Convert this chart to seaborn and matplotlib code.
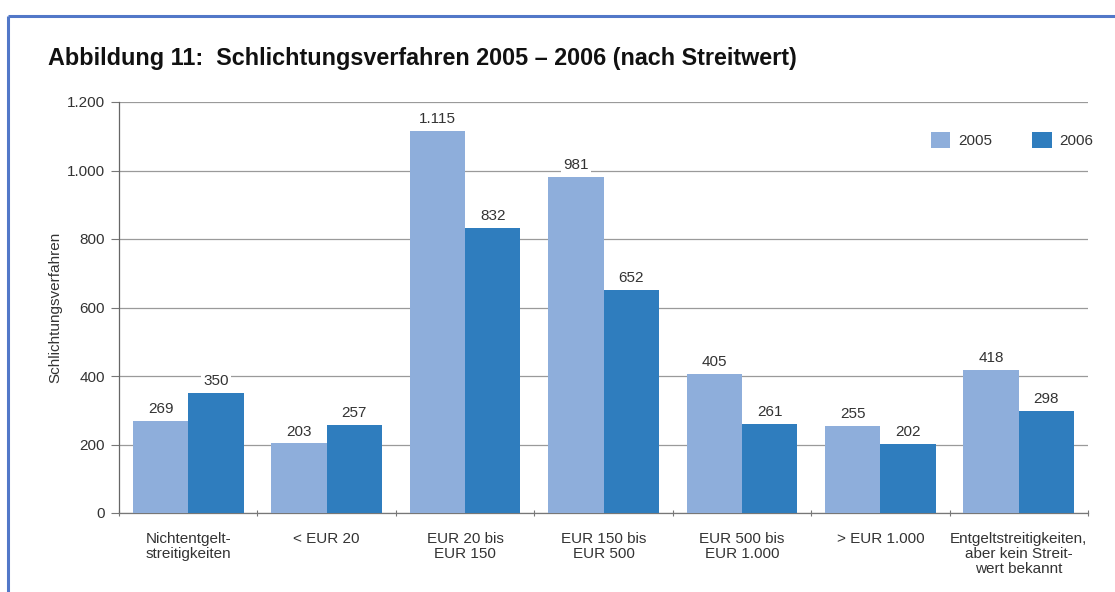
import matplotlib
matplotlib.use("Agg")
import matplotlib.pyplot as plt
from matplotlib.lines import Line2D
from matplotlib.patches import Patch
import seaborn as sns
import pandas as pd

categories = [
    "Nichtentgelt-\nstreitigkeiten",
    "< EUR 20",
    "EUR 20 bis\nEUR 150",
    "EUR 150 bis\nEUR 500",
    "EUR 500 bis\nEUR 1.000",
    "> EUR 1.000",
    "Entgeltstreitigkeiten,\naber kein Streit-\nwert bekannt",
]
values_2005 = [269, 203, 1115, 981, 405, 255, 418]
values_2006 = [350, 257, 832, 652, 261, 202, 298]
years = ["2005", "2006"]
y_ticks = [0, 200, 400, 600, 800, 1000, 1200]

colors = {"2005": "#8eaedb", "2006": "#2f7dbe"}

df = pd.DataFrame({
    "Kategorie": categories * 2,
    "Jahr": [years[0]] * len(categories) + [years[1]] * len(categories),
    "Anzahl": values_2005 + values_2006,
})

sns.set_theme(style="white")
narrow = ["Liberation Sans Narrow", "Liberation Sans", "DejaVu Sans"]
plt.rcParams["font.family"] = narrow

W, H = 1115, 592
fig = plt.figure(figsize=(W / 100, H / 100), dpi=100)
ax = fig.add_axes([119 / W, 1 - 513 / H, (1088 - 119) / W, (513 - 102) / H])

sns.barplot(data=df, x="Kategorie", y="Anzahl", hue="Jahr", order=categories,
            hue_order=years, palette=colors, width=0.8, saturation=1,
            edgecolor="none", linewidth=0, legend=False, ax=ax, zorder=3)


def de_fmt(v):
    return f"{int(v):,}".replace(",", ".")


# value labels above each bar with a white backing that interrupts gridlines
for container in ax.containers:
    for bar in container:
        h = bar.get_height()
        ax.text(bar.get_x() + bar.get_width() / 2, h + 14, de_fmt(h),
                ha="center", va="bottom", fontsize=11, color="#333333",
                zorder=4,
                bbox=dict(facecolor="white", edgecolor="none", pad=1.5))

ax.set_ylim(0, 1200)
ax.set_xlim(-0.5, len(categories) - 0.5)
ax.set_yticks(y_ticks)
ax.set_yticklabels([de_fmt(t) for t in y_ticks], fontsize=11, color="#333333")
ax.yaxis.grid(True, color="#9a9a9a", linewidth=0.9, zorder=0)
ax.set_axisbelow(True)
ax.tick_params(axis="y", which="major", length=6, width=0.8, color="#777777",
               left=True, pad=4)

ax.set_xticks(range(len(categories)))
ax.set_xticklabels(categories, fontsize=11, color="#333333", linespacing=1.05,
                   va="top")
ax.tick_params(axis="x", which="major", length=0, pad=14)
ax.set_xticks([i - 0.5 for i in range(len(categories) + 1)], minor=True)
ax.tick_params(axis="x", which="minor", length=5, width=0.8, color="#777777",
               bottom=True, direction="inout")

ax.set_xlabel("")
ax.set_ylabel("Schlichtungsverfahren", fontsize=11, color="#333333", labelpad=3)

for side in ["top", "right"]:
    ax.spines[side].set_visible(False)
ax.spines["left"].set_color("#666666")
ax.spines["left"].set_linewidth(0.9)
ax.spines["bottom"].set_color("#777777")
ax.spines["bottom"].set_linewidth(0.9)

handles = [Patch(facecolor=colors[y], edgecolor="none", label=y) for y in years]
ax.legend(handles=handles, loc="upper right", bbox_to_anchor=(1104 / W, 1 - 121 / H),
          bbox_transform=fig.transFigure, ncol=2, frameon=False, fontsize=11,
          handlelength=1.3, handleheight=1.3, handletextpad=0.5, columnspacing=2.6,
          labelcolor="#333333", borderpad=0.2)

fig.text(48 / W, 1 - 58 / H,
         "Abbildung 11:  Schlichtungsverfahren 2005 \u2013 2006 (nach Streitwert)",
         fontsize=16.8, fontweight="bold", color="#111111", va="center", ha="left",
         family=["Liberation Sans", "DejaVu Sans"])

# frame lines along the top and left edge of the figure
frame_color = "#5278c8"
fig.add_artist(Line2D([8 / W, 8 / W], [0, 1 - 16 / H], transform=fig.transFigure,
                      color=frame_color, linewidth=2.2, solid_capstyle="butt"))
fig.add_artist(Line2D([8 / W, 1], [1 - 16 / H, 1 - 16 / H], transform=fig.transFigure,
                      color=frame_color, linewidth=2.2, solid_capstyle="butt"))

fig.savefig("out.png", dpi=100)
